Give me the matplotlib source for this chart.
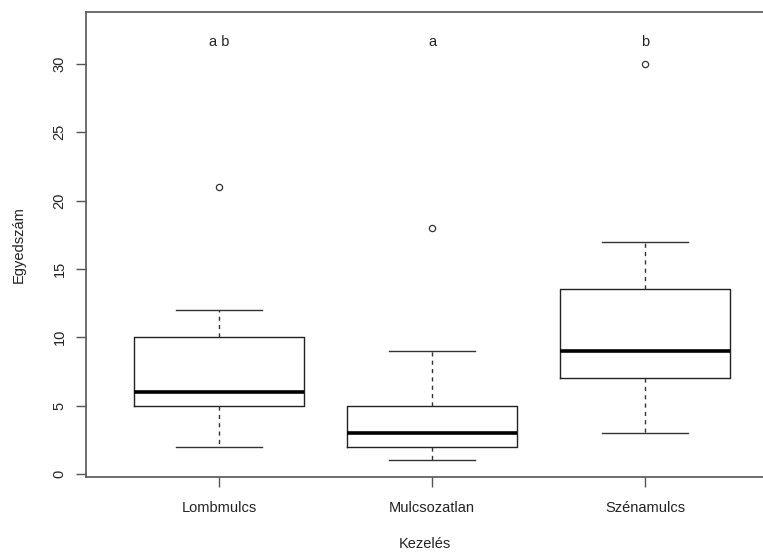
import matplotlib
matplotlib.use("Agg")
import matplotlib.pyplot as plt

plt.rcParams["font.family"] = ["Liberation Sans", "DejaVu Sans"]

# treatment groups and box statistics
groups = ["Lombmulcs", "Mulcsozatlan", "Szénamulcs"]
whislo = [2, 1, 3]
q1 = [5, 2, 7]
med = [6, 3, 9]
q3 = [10, 5, 13.5]
whishi = [12, 9, 17]
outliers = [[21], [18], [30]]
letters = ["a b", "a", "b"]
letter_y = 31.6

stats = [dict(whislo=lo, q1=a, med=m, q3=b, whishi=hi, fliers=f, label=g)
         for lo, a, m, b, hi, f, g in zip(whislo, q1, med, q3, whishi, outliers, groups)]

fig = plt.figure(figsize=(7.63, 5.53), dpi=100)
ax = fig.add_axes([86 / 763, 1 - 477 / 553, 1 - 86 / 763, (477 - 12) / 553])

ax.bxp(stats, positions=[1, 2, 3], widths=0.8,
       boxprops=dict(color="#222222", linewidth=1.0),
       medianprops=dict(color="black", linewidth=2.6),
       whiskerprops=dict(color="#333333", linewidth=1.0, linestyle=(0, (3, 3))),
       capprops=dict(color="#333333", linewidth=1.0),
       capwidths=0.4,
       flierprops=dict(marker="o", markersize=4.5, markerfacecolor="none",
                       markeredgecolor="#333333", markeredgewidth=0.9))

for i, t in enumerate(letters):
    ax.text(i + 1, letter_y, t, ha="center", va="center", fontsize=10.5, color="#222222")

ax.set_xlim(0.376, 3.554)
ax.set_ylim(-0.22, 33.8)
ax.set_yticks([0, 5, 10, 15, 20, 25, 30])
ax.set_yticklabels([str(v) for v in [0, 5, 10, 15, 20, 25, 30]], rotation=90, va="center")
ax.set_xticks([1, 2, 3])
ax.set_xticklabels(groups)
ax.tick_params(axis="both", length=7, width=1.0, color="#555555", labelsize=10.5,
               labelcolor="#222222", pad=7)
ax.tick_params(axis="x", pad=10)
ax.spines["right"].set_visible(False)
for s in ["left", "top", "bottom"]:
    ax.spines[s].set_color("#555555")
    ax.spines[s].set_linewidth(1.2)

ax.set_xlabel("Kezelés", fontsize=10.5, color="#222222", labelpad=16)
ax.set_ylabel("Egyedszám", fontsize=10.5, color="#222222", labelpad=19)

fig.savefig("out.png", dpi=100)
